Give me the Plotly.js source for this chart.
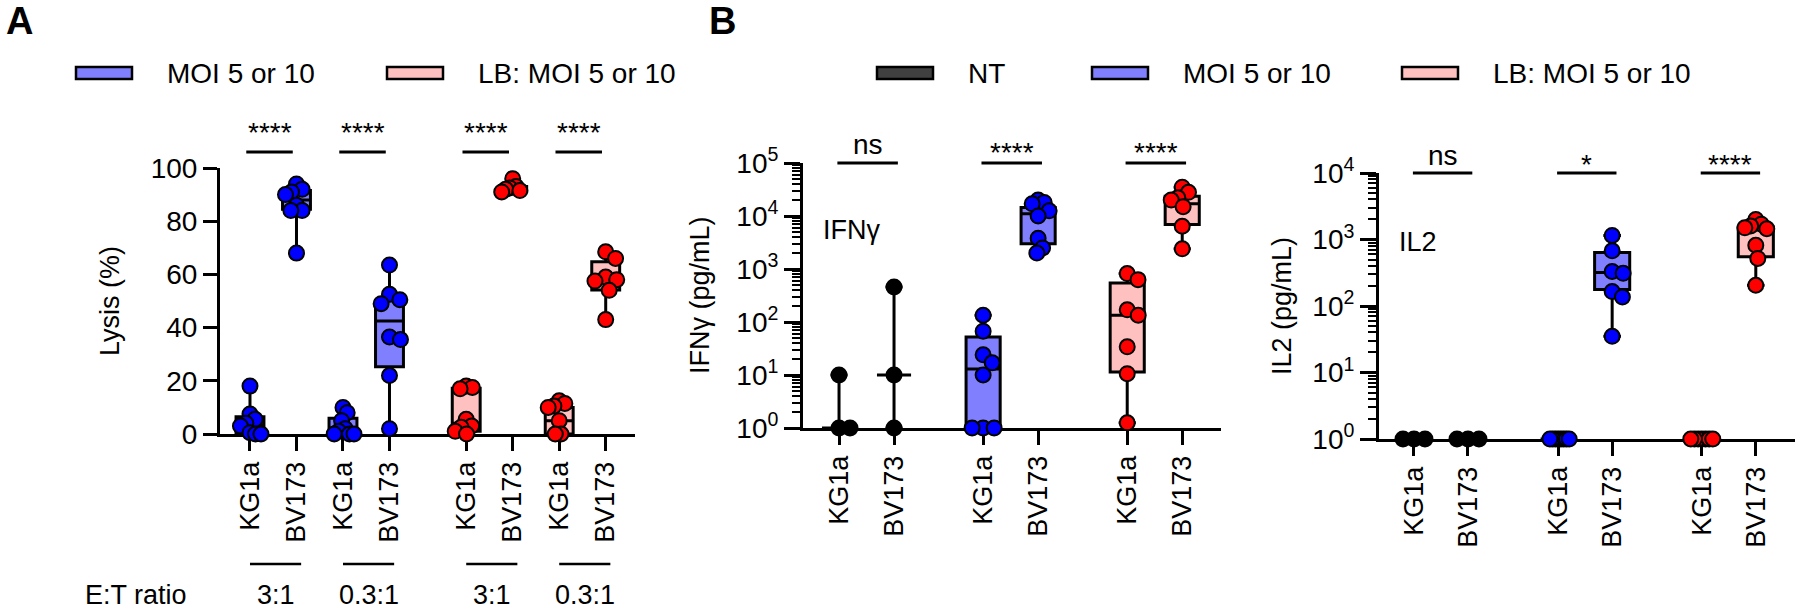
<!DOCTYPE html>
<html><head><meta charset="utf-8">
<script src="https://cdn.plot.ly/plotly-3.0.1.min.js"></script>
<style>body{margin:0;background:#fff}#chart{width:1800px;height:611px}</style>
</head><body><div id="chart"></div>
<script>
// ================= DATA =================
// Panel A – Lysis (%)
const lysisLabels = ['KG1a','BV173','KG1a','BV173','KG1a','BV173','KG1a','BV173'];
const etRatioLabels = ['3:1','0.3:1','3:1','0.3:1'];
const lysisSig = ['****','****','****','****'];
// points per group
const lysisMOI_KG1a_3  = [18, 7.5, 5.5, 4, 3, 0.5, 0, 0];
const lysisMOI_BV173_3 = [94, 92, 91, 90, 86, 84, 84, 68];
const lysisMOI_KG1a_03 = [10, 8, 5, 2, 1, 0, 0, 0];
const lysisMOI_BV173_03= [63.5, 52.5, 50.5, 49, 36.5, 35.5, 22, 2];
const lysisLB_KG1a_3   = [18, 17.5, 17, 5.5, 3, 2.5, 1, 0];
const lysisLB_BV173_3  = [96, 93, 92.5, 92, 91.5, 91];
const lysisLB_KG1a_03  = [12.5, 11.5, 10.5, 10, 5, 0, 0];
const lysisLB_BV173_03 = [68.5, 66, 59, 58, 57.5, 54, 43];
const lysisQ1     = [0, 84.5, 0, 25.3, 1, 91.2, 0, 54.1];
const lysisMedian = [3.5, 88, 1.5, 42.5, 4, 92, 5, 58];
const lysisQ3     = [6.5, 91.5, 5.9, 50.1, 17.2, 93, 10, 64.8];

// Panel B – IFNγ (pg/mL)   order: NT KG1a, NT BV173, MOI KG1a, MOI BV173, LB KG1a, LB BV173
const cytLabels = ['KG1a','BV173','KG1a','BV173','KG1a','BV173'];
const ifnSig = ['ns','****','****'];
const ifnNT_KG1a   = [10, 1, 1];
const ifnNT_BV173  = [457, 10, 1];
const ifnMOI_KG1a  = [134, 67, 24, 17, 10, 1, 1, 1];
const ifnMOI_BV173 = [20000, 18000, 17000, 12500, 10000, 3800, 2500, 2000];
const ifnLB_KG1a   = [820, 630, 170, 134, 34, 10.6, 1.25];
const ifnLB_BV173  = [35000, 28000, 22000, 20000, 15000, 6400, 2400];
const ifnQ1     = [1, 10, 1, 3000, 11.4, 6900];
const ifnMedian = [1, 10, 13, 11000, 134, 17000];
const ifnQ3     = [1, 10, 52, 14400, 545, 23600];

// Panel B – IL2 (pg/mL)
const il2Sig = ['ns','*','****'];
const il2NT_KG1a   = [1, 1, 1];
const il2NT_BV173  = [1, 1, 1];
const il2MOI_KG1a  = [1, 1, 1, 1, 1, 1, 1, 1];
const il2MOI_BV173 = [1150, 675, 330, 310, 165, 137, 35];
const il2LB_KG1a   = [1, 1, 1, 1, 1, 1, 1];
const il2LB_BV173  = [2000, 1700, 1600, 1500, 1450, 820, 520, 205];
const il2Q1     = [1, 1, 1, 177, 1, 550];
const il2Median = [1, 1, 1, 320, 1, 1450];
const il2Q3     = [1, 1, 1, 635, 1, 1540];

const legendA = ['MOI 5 or 10', 'LB: MOI 5 or 10'];
const legendB = ['NT', 'MOI 5 or 10', 'LB: MOI 5 or 10'];

// ================= LAYOUT HELPERS =================
const W = 1800, H = 611;
const FONT = 'Arial, "Liberation Sans", sans-serif';
const X = p => p / W;
const Y = p => 1 - p / H;
const BLUE_FILL = '#8080FF', PINK_FILL = '#FFC0C0', NT_FILL = '#404040';
const BLUE = '#0000FF', RED = '#FF0000', BLACK = '#000000';

// category positions (layout)
const posA = [0, 1, 2, 3, 4.65, 5.65, 6.65, 7.65];
const posIFN = [0, 1, 2.62, 3.62, 5.24, 6.24];
const posIL2 = [0, 1, 2.67, 3.67, 5.33, 6.33];

const geo = {
  A:   {x0:220, x1:635, y0:434, y1:168, xr:[-0.645, 8.28], yr:[0,100], log:false},
  IFN: {x0:803, x1:1221, y0:428, y1:163, xr:[-0.655, 6.945], yr:[0,5], log:true},
  IL2: {x0:1379, x1:1795, y0:439, y1:173, xr:[-0.648, 7.056], yr:[0,4], log:true}
};
function unitX(g){ return (g.x1-g.x0)/(g.xr[1]-g.xr[0]); }
function toPxY(g, v){ const t = g.log ? Math.log10(v) : v; return (t-g.yr[0])/(g.yr[1]-g.yr[0])*(g.y0-g.y1); }

// beeswarm offsets (pixels) -> data units
function swarm(vals, g, D, maxW){
  const placed = [], out = [];
  vals.forEach(v => {
    const y = toPxY(g, v);
    const near = placed.filter(p => Math.abs(p.y-y) < D);
    const cands = [0];
    near.forEach(p => { const dx = Math.sqrt(D*D-(p.y-y)*(p.y-y)); cands.push(p.x+dx, p.x-dx); });
    cands.sort((a,b) => Math.abs(a)-Math.abs(b) || b-a);
    let c0 = 0;
    for (const c of cands){ if (near.every(p => (p.x-c)*(p.x-c)+(p.y-y)*(p.y-y) >= D*D-0.01)){ c0 = c; break; } }
    placed.push({x:c0, y:y}); out.push(c0);
  });
  const m = Math.max(...out.map(Math.abs));
  const s = m > maxW ? maxW/m : 1;
  const u = unitX(g);
  return out.map(o => o*s/u);
}

const boxTraces = [], dotTraces = [];
function addGroup(xa, ya, g, pos, pts, q1, med, q3, fill, dot, boxW){
  boxTraces.push({type:'box', xaxis:xa, yaxis:ya, x:[pos], q1:[q1], median:[med], q3:[q3],
    lowerfence:[Math.min(...pts)], upperfence:[Math.max(...pts)], width:boxW,
    fillcolor:fill, line:{color:BLACK, width:3}, whiskerwidth:0.5, boxpoints:false,
    hoverinfo:'skip', showlegend:false});
  const off = swarm(pts, g, 14, 11);
  dotTraces.push({type:'scatter', mode:'markers', xaxis:xa, yaxis:ya,
    x: pts.map((v,i) => pos + off[i]), y: pts, cliponaxis:false,
    marker:{size:15, color:dot, line:{color:BLACK, width:2}}, hoverinfo:'skip', showlegend:false});
}

const lysisGroups = [lysisMOI_KG1a_3, lysisMOI_BV173_3, lysisMOI_KG1a_03, lysisMOI_BV173_03,
                     lysisLB_KG1a_3, lysisLB_BV173_3, lysisLB_KG1a_03, lysisLB_BV173_03];
lysisGroups.forEach((pts,i) => {
  const lb = i >= 4;
  addGroup('x','y', geo.A, posA[i], pts, lysisQ1[i], lysisMedian[i], lysisQ3[i],
    lb ? PINK_FILL : BLUE_FILL, lb ? RED : BLUE, 0.6);
});
const ifnGroups = [ifnNT_KG1a, ifnNT_BV173, ifnMOI_KG1a, ifnMOI_BV173, ifnLB_KG1a, ifnLB_BV173];
const il2Groups = [il2NT_KG1a, il2NT_BV173, il2MOI_KG1a, il2MOI_BV173, il2LB_KG1a, il2LB_BV173];
const fillsB = ['rgba(0,0,0,0)','rgba(0,0,0,0)', BLUE_FILL, BLUE_FILL, PINK_FILL, PINK_FILL];
const dotsB = [BLACK, BLACK, BLUE, BLUE, RED, RED];
ifnGroups.forEach((pts,i) => addGroup('x2','y2', geo.IFN, posIFN[i], pts, ifnQ1[i], ifnMedian[i], ifnQ3[i], fillsB[i], dotsB[i], 0.62));
il2Groups.forEach((pts,i) => addGroup('x3','y3', geo.IL2, posIL2[i], pts, il2Q1[i], il2Median[i], il2Q3[i], fillsB[i], dotsB[i], 0.65));

// ================= AXES =================
const baseAx = {showline:true, linewidth:3, linecolor:BLACK, ticks:'outside', tickwidth:3, tickcolor:BLACK,
  showgrid:false, zeroline:false, layer:'below traces', tickfont:{size:27, color:BLACK, family:FONT}, fixedrange:true};
function xAx(g, anchor, pos, labels){
  return Object.assign({}, baseAx, {domain:[X(g.x0), X(g.x1)], range:g.xr, anchor:anchor,
    tickmode:'array', tickvals:pos, ticktext:labels, tickangle:-90, ticklen:14});
}
function logTicks(n){ const v=[], t=[]; for(let d=0; d<=n; d++){ v.push(Math.pow(10,d)); t.push('10<sup>'+d+'</sup>'); } return {v, t}; }
function minorVals(n){ const v=[]; for(let d=0; d<n; d++){ for(let k=2;k<=9;k++) v.push(k*Math.pow(10,d)); } return v; }
const lt5 = logTicks(5), lt4 = logTicks(4);
function yLog(g, anchor, lt, n){
  return Object.assign({}, baseAx, {domain:[Y(g.y0), Y(g.y1)], type:'log', range:g.yr, anchor:anchor,
    tickmode:'array', tickvals:lt.v, ticktext:lt.t, ticklen:16, tickfont:{size:28, color:BLACK, family:FONT},
    minor:{tickmode:'array', tickvals:minorVals(n), ticks:'outside', ticklen:8, tickwidth:2, tickcolor:BLACK, showgrid:false}});
}

const layout = {
  width:W, height:H, autosize:false, margin:{l:0,r:0,t:0,b:0},
  paper_bgcolor:'#fff', plot_bgcolor:'rgba(0,0,0,0)', showlegend:false,
  font:{family:FONT, color:BLACK, size:27},
  xaxis: xAx(geo.A, 'y', posA, lysisLabels),
  yaxis: Object.assign({}, baseAx, {domain:[Y(geo.A.y0), Y(geo.A.y1)], range:geo.A.yr, anchor:'x',
            tickmode:'array', tickvals:[0,20,40,60,80,100], ticklen:14, tickfont:{size:28, color:BLACK, family:FONT}}),
  xaxis2: xAx(geo.IFN, 'y2', posIFN, cytLabels),
  yaxis2: yLog(geo.IFN, 'x2', lt5, 5),
  xaxis3: xAx(geo.IL2, 'y3', posIL2, cytLabels),
  yaxis3: yLog(geo.IL2, 'x3', lt4, 4),
  shapes: [], annotations: []
};
const S = layout.shapes, A = layout.annotations;
function txt(x, y, text, opts){ A.push(Object.assign({x:x, y:y, xref:'paper', yref:'paper', text:text, showarrow:false,
  xanchor:'center', yanchor:'middle', font:{size:27, color:BLACK, family:FONT}}, opts||{})); }

// panel letters
txt(X(19), Y(21), '<b>A</b>', {font:{size:38, color:BLACK, family:FONT}});
txt(X(722), Y(21), '<b>B</b>', {font:{size:38, color:BLACK, family:FONT}});

// legends
function legItem(bx, fill, label){
  S.push({type:'rect', xref:'paper', yref:'paper', x0:X(bx), x1:X(bx+56), y0:Y(79), y1:Y(67),
    fillcolor:fill, line:{color:BLACK, width:2.5}});
  txt(X(bx+89), Y(74), label, {xanchor:'left', font:{size:28, color:BLACK, family:FONT}});
}
legItem(76, BLUE_FILL, legendA[0]);
legItem(387, PINK_FILL, legendA[1]);
legItem(877, NT_FILL, legendB[0]);
legItem(1092, BLUE_FILL, legendB[1]);
legItem(1402, PINK_FILL, legendB[2]);

// y titles
txt(X(110), Y(301), 'Lysis (%)', {textangle:-90});
txt(X(700), Y(295), 'IFNγ (pg/mL)', {textangle:-90});
txt(X(1282), Y(306), 'IL2 (pg/mL)', {textangle:-90});
// inner labels
txt(X(851), Y(230), 'IFNγ');
txt(X(1418), Y(242), 'IL2');

// significance bars
function sig(xa, c1, c2, a, b, barY, textY, label){
  S.push({type:'line', xref:xa, yref:'paper', x0:c1+a, x1:c2+b, y0:Y(barY), y1:Y(barY), line:{color:BLACK, width:3}});
  A.push({x:(c1+c2+a+b)/2, y:Y(textY), xref:xa, yref:'paper', text:label, showarrow:false, xanchor:'center', yanchor:'middle',
    font:{size:28, color:BLACK, family:FONT}});
}
for (let k=0;k<4;k++) sig('x', posA[2*k], posA[2*k+1], -0.08, -0.08, 152, 132, lysisSig[k]);
for (let k=0;k<3;k++) sig('x2', posIFN[2*k], posIFN[2*k+1], -0.03, 0.07, 163, ifnSig[k]==='ns'?145:152, ifnSig[k]);
for (let k=0;k<3;k++) sig('x3', posIL2[2*k], posIL2[2*k+1], -0.02, 0.08, 173, il2Sig[k]==='ns'?156:164, il2Sig[k]);

// E:T ratio group lines
for (let k=0;k<4;k++){
  const c1 = posA[2*k], c2 = posA[2*k+1];
  S.push({type:'line', xref:'x', yref:'paper', x0:c1, x1:c2+0.1, y0:Y(564), y1:Y(564), line:{color:BLACK, width:2.5}});
  A.push({x:(c1+c2)/2+0.05, y:Y(595), xref:'x', yref:'paper', text:etRatioLabels[k], showarrow:false, xanchor:'center', yanchor:'middle',
    font:{size:27, color:BLACK, family:FONT}});
}
txt(X(136), Y(595), 'E:T ratio');

Plotly.newPlot('chart', boxTraces.concat(dotTraces), layout, {staticPlot:true, displayModeBar:false});
</script>
</body></html>
